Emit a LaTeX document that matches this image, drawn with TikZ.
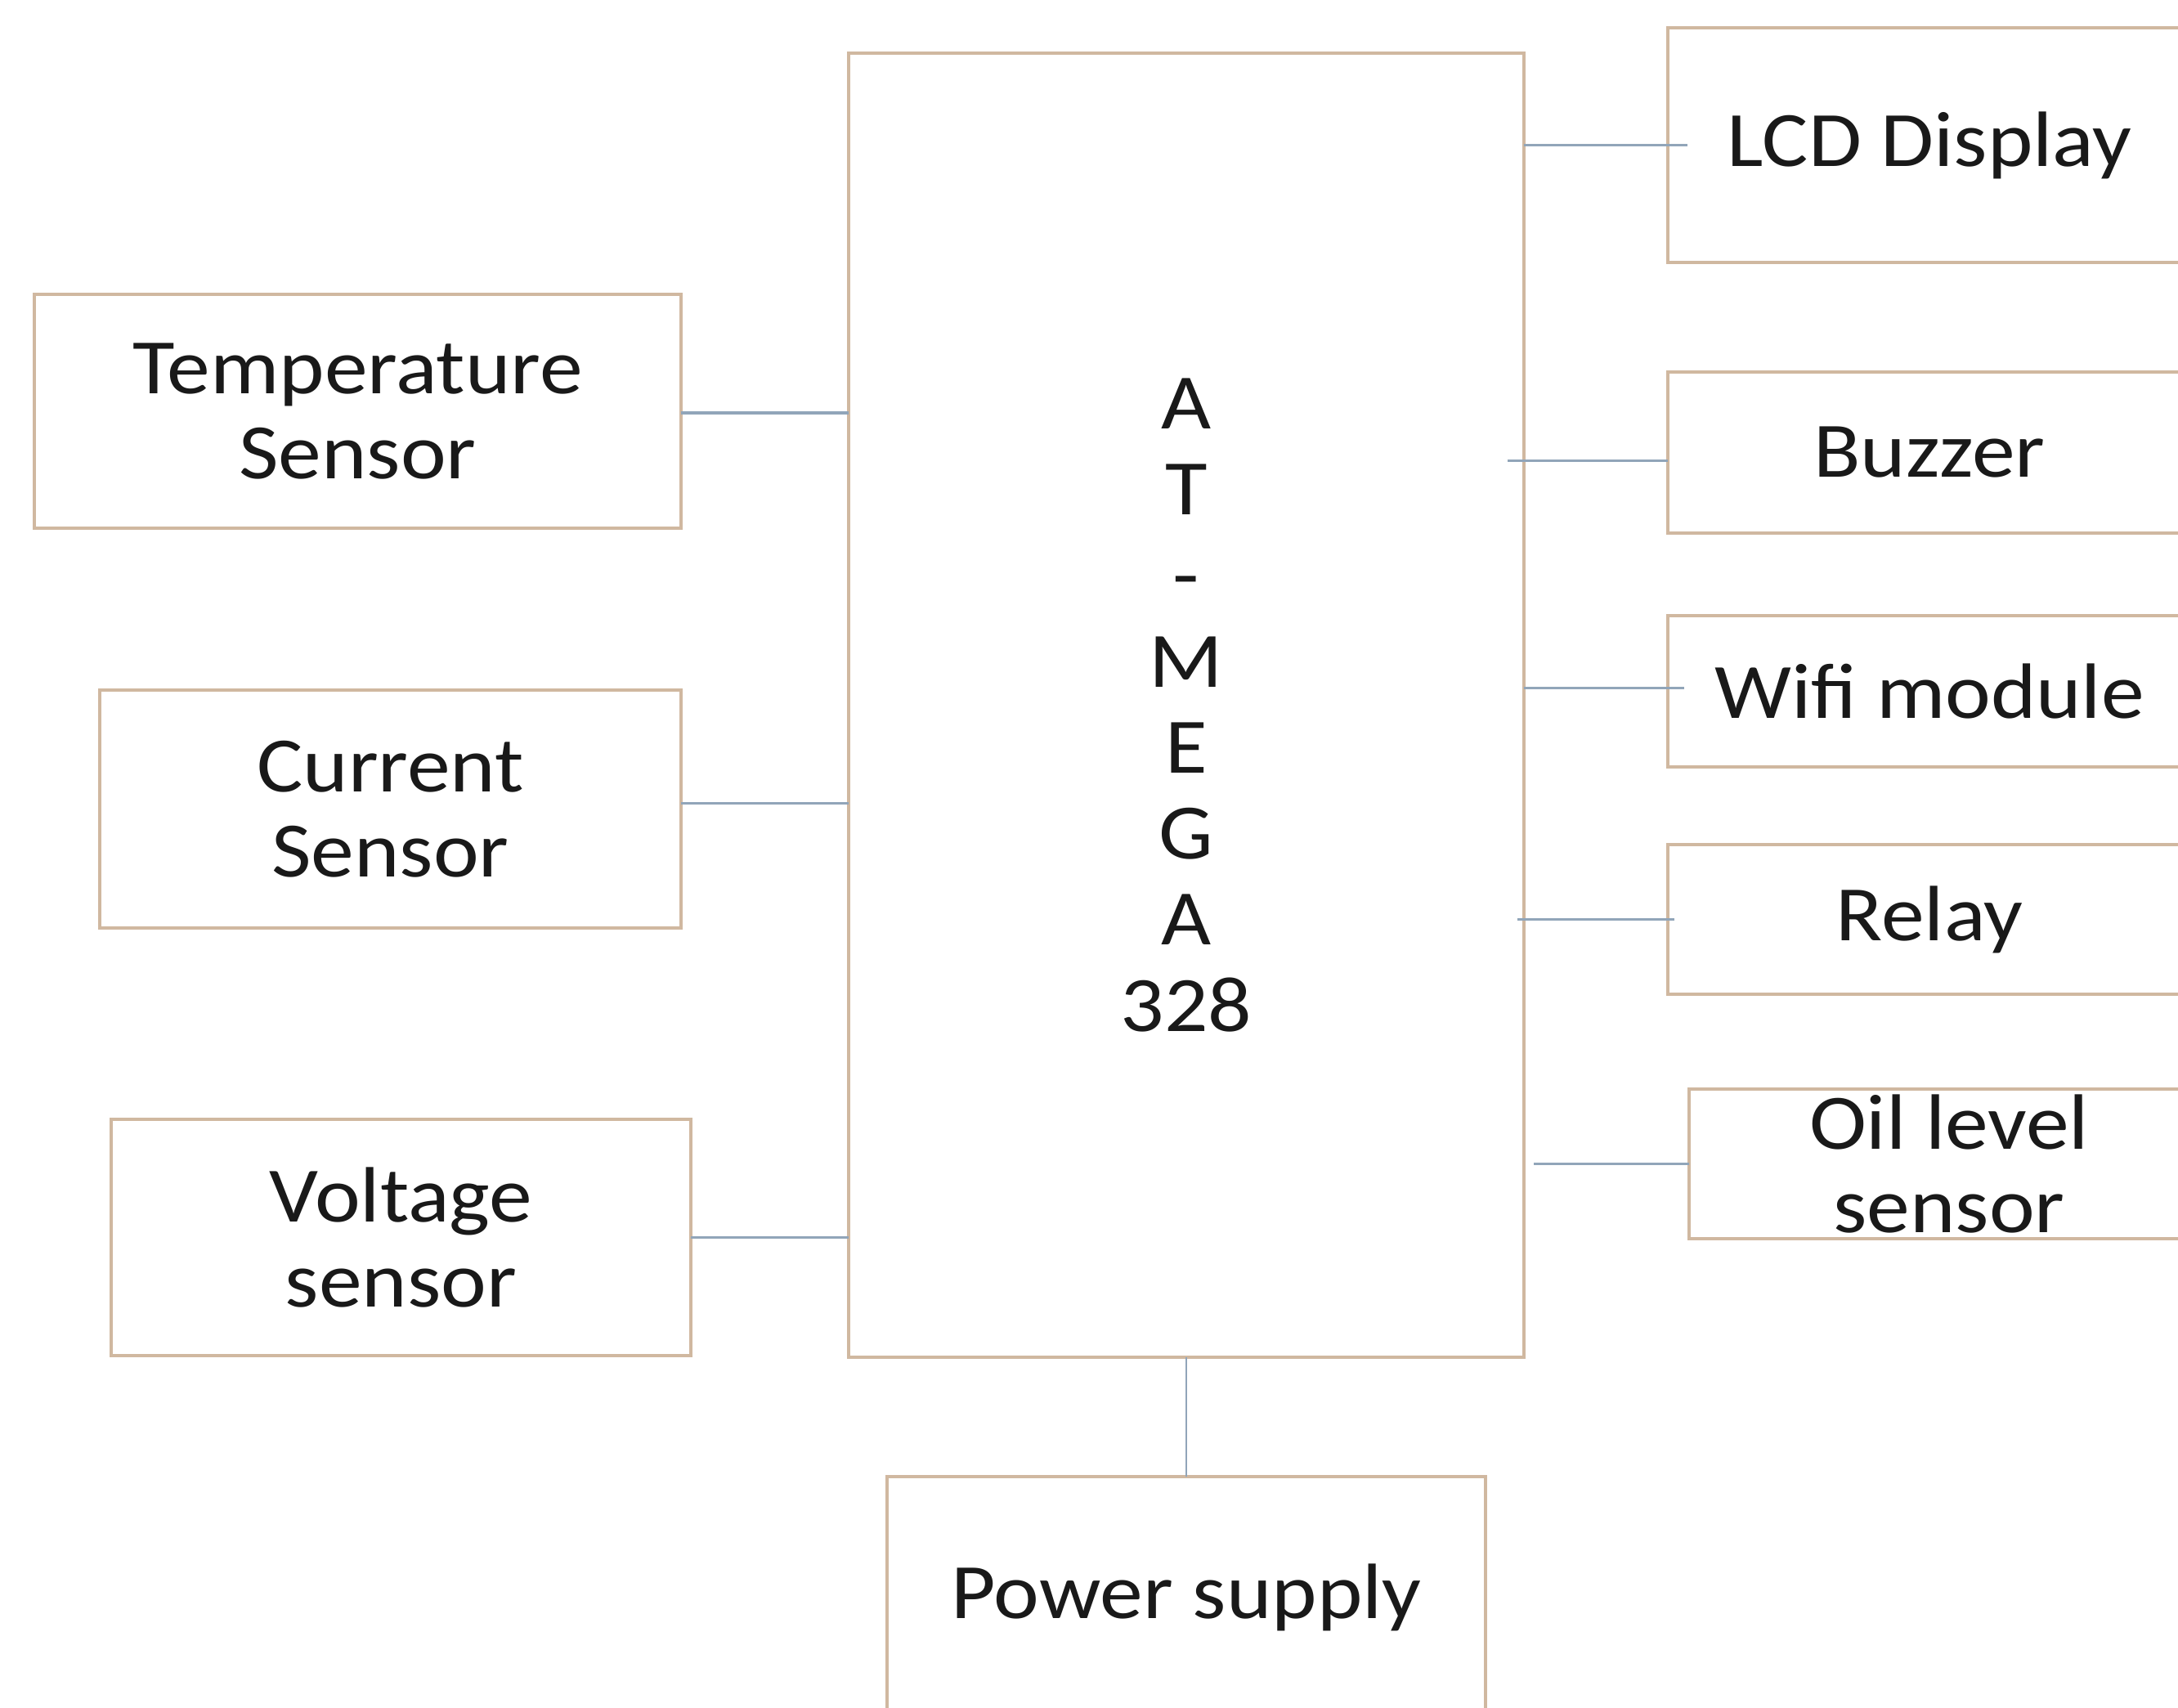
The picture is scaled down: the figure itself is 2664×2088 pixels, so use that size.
\documentclass[tikz,border=0pt]{standalone}
\usepackage{fontspec}
\setmainfont{Carlito}[FakeStretch=1.1]
\definecolor{boxline}{RGB}{208,184,160}
\definecolor{conn}{RGB}{145,165,185}
\begin{document}
\begin{tikzpicture}[x=0.25pt,y=-0.25pt,
  blk/.style={draw=boxline, line width=0.8pt, fill=white, inner sep=0pt, outer sep=0pt,
    align=center, font={\fontsize{24}{26}\selectfont}, text=black!90},
  wire/.style={draw=conn, line width=0.8pt}]
\useasboundingbox (0,0) rectangle (2664,2088);
\node[blk, minimum width=206.5pt, minimum height=398.75pt, font={\fontsize{24}{26.3}\selectfont}] (main) at (1451,862.5) {A\\T\\-\\M\\E\\G\\A\\328};
\node[blk, minimum width=197.75pt, minimum height=71.5pt] (temp) at (437.5,503) {Temperature\\Sensor};
\node[blk, minimum width=177.75pt, minimum height=72.75pt] (curr) at (477.5,989.5) {Current\\Sensor};
\node[blk, minimum width=177.25pt, minimum height=72.25pt] (volt) at (490.5,1513.5) {Voltage\\sensor};
\node[blk, minimum width=160pt, minimum height=71.75pt] (lcd) at (2360,177.5) {LCD Display};
\node[blk, minimum width=160pt, minimum height=49.25pt] (buzz) at (2360,553.5) {Buzzer};
\node[blk, minimum width=160pt, minimum height=46.25pt] (wifi) at (2360,845.5) {Wifi module};
\node[blk, minimum width=160pt, minimum height=45.75pt] (relay) at (2360,1124.5) {Relay};
\node[blk, minimum width=159pt, minimum height=45.75pt,
  label={[align=center, font={\fontsize{24}{25.5}\selectfont}, text=black!90]center:Oil level\\sensor}] (oil) at (2384,1423.5) {};
\node[blk, minimum width=183pt, minimum height=74pt] (power) at (1451,1954) {Power supply};
\draw[wire] ([yshift=-0.5pt]temp.east) -- ([yshift=-0.5pt]temp.east -| main.west);
\draw[wire] ([yshift=1.8pt]curr.east) -- ([yshift=1.8pt]curr.east -| main.west);
\draw[wire] (volt.east) -- (volt.east -| main.west);
\draw[wire] ([xshift=6pt]lcd.west) -- (lcd.west -| main.east);
\draw[wire] ([yshift=-2.5pt]buzz.west) -- ([yshift=-2.5pt,xshift=-5pt]buzz.west -| main.east);
\draw[wire] ([xshift=5pt,yshift=1pt]wifi.west) -- ([yshift=1pt]wifi.west -| main.east);
\draw[wire] ([xshift=2pt]relay.west) -- ([xshift=-2pt]relay.west -| main.east);
\draw[wire] (oil.west) -- ([xshift=3pt]oil.west -| main.east);
\draw[wire, line width=0.5pt] (main.south) -- (main.south |- power.north);
\end{tikzpicture}
\end{document}
